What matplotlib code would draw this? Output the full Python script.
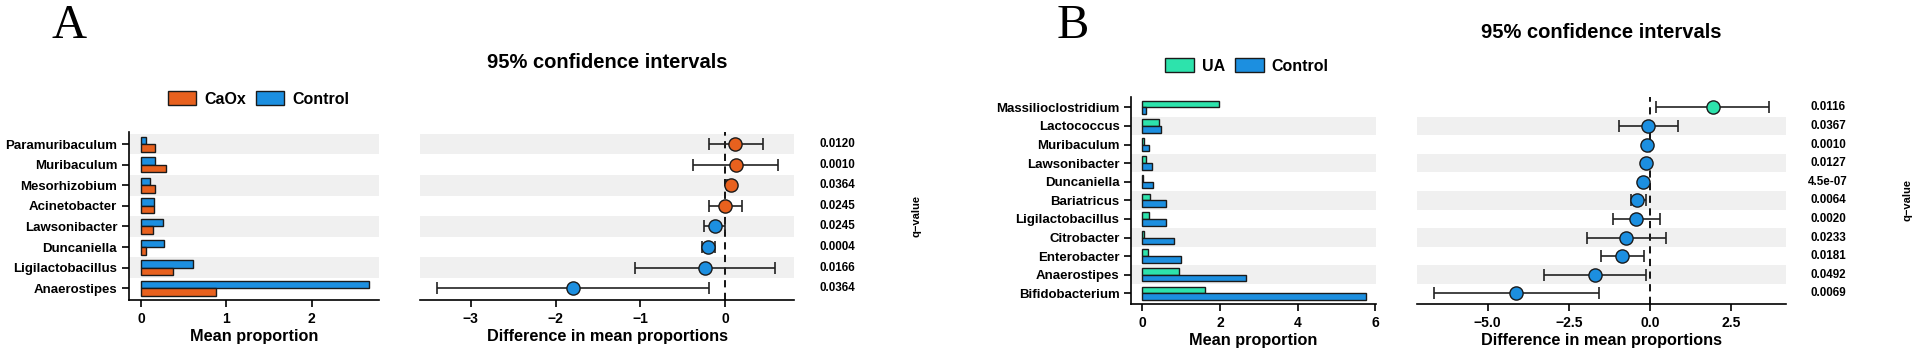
import matplotlib
matplotlib.use("Agg")
import matplotlib.pyplot as plt
from matplotlib.patches import Patch
from matplotlib.transforms import blended_transform_factory
import numpy as np

plt.rcParams['font.family'] = ['Liberation Sans', 'DejaVu Sans']
plt.rcParams['font.weight'] = 'bold'
plt.rcParams['axes.unicode_minus'] = True

# ---------------- Panel A: CaOx vs Control ----------------
genera_a = ["Paramuribaculum", "Muribaculum", "Mesorhizobium", "Acinetobacter",
            "Lawsonibacter", "Duncaniella", "Ligilactobacillus", "Anaerostipes"]
caox_mean = [0.17, 0.29, 0.16, 0.15, 0.14, 0.06, 0.37, 0.88]
ctrl_mean_a = [0.055, 0.17, 0.105, 0.15, 0.26, 0.27, 0.61, 2.67]
diff_a = [0.113, 0.122, 0.063, -0.004, -0.118, -0.20, -0.235, -1.79]
ci_lo_a = [-0.198, -0.378, 0.02, -0.198, -0.248, -0.277, -1.067, -3.39]
ci_hi_a = [0.437, 0.614, 0.105, 0.193, 0.0, -0.122, 0.584, -0.189]
qval_a = ["0.0120", "0.0010", "0.0364", "0.0245", "0.0245", "0.0004", "0.0166", "0.0364"]

# ---------------- Panel B: UA vs Control ----------------
genera_b = ["Massilioclostridium", "Lactococcus", "Muribaculum", "Lawsonibacter",
            "Duncaniella", "Bariatricus", "Ligilactobacillus", "Citrobacter",
            "Enterobacter", "Anaerostipes", "Bifidobacterium"]
ua_mean = [1.99, 0.44, 0.05, 0.11, 0.026, 0.21, 0.17, 0.05, 0.14, 0.95, 1.62]
ctrl_mean_b = [0.086, 0.49, 0.18, 0.26, 0.27, 0.62, 0.61, 0.81, 1.0, 2.67, 5.76]
diff_b = [1.92, -0.05, -0.11, -0.13, -0.23, -0.39, -0.42, -0.73, -0.85, -1.68, -4.12]
ci_lo_b = [0.174, -0.95, -0.17, -0.20, -0.29, -0.60, -1.15, -1.94, -1.51, -3.27, -6.64]
ci_hi_b = [3.66, 0.86, -0.05, -0.06, -0.17, -0.14, 0.30, 0.48, -0.19, -0.12, -1.58]
qval_b = ["0.0116", "0.0367", "0.0010", "0.0127", "4.5e-07", "0.0064", "0.0020",
          "0.0233", "0.0181", "0.0492", "0.0069"]

ORANGE = "#E8611E"
BLUE = "#1C8FE0"
GREEN = "#2DE3AC"
BAND = "#F0F0F0"

W, H = 1919, 351
fig = plt.figure(figsize=(W / 100, H / 100), dpi=100)


def add_ax(left, right, top, bottom):
    return fig.add_axes([left / W, 1 - bottom / H, (right - left) / W, (bottom - top) / H])


def bands(ax, n):
    for k in range(n):
        if k % 2 == 1:
            ax.axhspan(k - 0.5, k + 0.5, color=BAND, zorder=0, lw=0)


def style_bar_axis(ax, names, ylim, xlim, xticks):
    n = len(names)
    ax.set_ylim(*ylim)
    ax.set_xlim(*xlim)
    ax.set_yticks(np.arange(n))
    ax.set_yticklabels(names[::-1], fontsize=9.5, fontweight='bold')
    ax.set_xticks(xticks)
    ax.tick_params(axis='both', length=5, width=1.2, colors='black', labelsize=10)
    ax.tick_params(axis='y', labelsize=9.5)
    for lab in ax.get_xticklabels():
        lab.set_fontweight('bold')
    for s in ['top', 'right']:
        ax.spines[s].set_visible(False)
    ax.spines['left'].set_linewidth(1.2)
    ax.spines['bottom'].set_linewidth(1.2)
    ax.set_xlabel("Mean proportion", fontsize=11.7, fontweight='bold', labelpad=2)


def style_ci_axis(ax, ylim, xlim, xticks, xticklabels):
    ax.set_ylim(*ylim)
    ax.set_xlim(*xlim)
    ax.set_yticks([])
    ax.set_xticks(xticks)
    ax.set_xticklabels(xticklabels)
    ax.tick_params(axis='x', length=5, width=1.2, labelsize=10)
    for lab in ax.get_xticklabels():
        lab.set_fontweight('bold')
    for s in ['top', 'right', 'left']:
        ax.spines[s].set_visible(False)
    ax.spines['bottom'].set_linewidth(1.2)
    ax.axvline(0, color='black', ls=(0, (4, 3)), lw=1.3, zorder=1)
    ax.set_xlabel("Difference in mean proportions", fontsize=11.7, fontweight='bold', labelpad=2)


def draw_ci(ax, diff, lo, hi, pos_color, neg_color):
    n = len(diff)
    y = np.arange(n)[::-1]
    for yi, d, l, h in zip(y, diff, lo, hi):
        ax.errorbar(d, yi, xerr=[[d - l], [h - d]], fmt='none', ecolor='#222222',
                    elinewidth=1.2, capsize=4, capthick=1.2, zorder=2)
        c = pos_color if d >= -0.01 else neg_color
        ax.plot(d, yi, 'o', ms=9.5, mfc=c, mec='#1a1a1a', mew=1.0, zorder=3)


def draw_qvals(ax, qvals, xq, xlab):
    n = len(qvals)
    tr = blended_transform_factory(fig.transFigure, ax.transData)
    for i, q in enumerate(qvals):
        ax.text(xq / W, n - 1 - i, q, transform=tr, ha='center', va='center',
                fontsize=8.4, fontweight='bold')
    ax.text(xlab / W, (n - 1) / 2, "q\u2212value", transform=tr, rotation=90,
            ha='center', va='center', fontsize=8, fontweight='bold')


BAR_H = 0.365

# ---- Panel A ----
na = len(genera_a)
ylim_a = (-0.57, 7.6)
axA1 = add_ax(129, 379, 131.7, 300)
bands(axA1, na)
ya = np.arange(na)[::-1]
axA1.barh(ya + BAR_H / 2, ctrl_mean_a, height=BAR_H, color=BLUE, edgecolor='#1a1a1a', lw=1.0, zorder=2)
axA1.barh(ya - BAR_H / 2, caox_mean, height=BAR_H, color=ORANGE, edgecolor='#1a1a1a', lw=1.0, zorder=2)
style_bar_axis(axA1, genera_a, ylim_a, (-0.14, 2.79), [0, 1, 2])

axA2 = add_ax(420.4, 794.3, 131.7, 300)
bands(axA2, na)
style_ci_axis(axA2, ylim_a, (-3.59, 0.81), [-3, -2, -1, 0], ["\u22123", "\u22122", "\u22121", "0"])
draw_ci(axA2, diff_a, ci_lo_a, ci_hi_a, ORANGE, BLUE)
draw_qvals(axA2, qval_a, 837.5, 916)

# ---- Panel B ----
nb = len(genera_b)
ylim_b = (-0.575, 10.57)
axB1 = add_ax(1131.3, 1376, 96.7, 304)
bands(axB1, nb)
yb = np.arange(nb)[::-1]
axB1.barh(yb + BAR_H / 2, ua_mean, height=BAR_H, color=GREEN, edgecolor='#1a1a1a', lw=1.0, zorder=2)
axB1.barh(yb - BAR_H / 2, ctrl_mean_b, height=BAR_H, color=BLUE, edgecolor='#1a1a1a', lw=1.0, zorder=2)
style_bar_axis(axB1, genera_b, ylim_b, (-0.28, 6.02), [0, 2, 4, 6])

axB2 = add_ax(1417.3, 1785.7, 96.7, 304)
bands(axB2, nb)
style_ci_axis(axB2, ylim_b, (-7.16, 4.17), [-5, -2.5, 0, 2.5],
              ["\u22125.0", "\u22122.5", "0.0", "2.5"])
draw_ci(axB2, diff_b, ci_lo_b, ci_hi_b, GREEN, BLUE)
draw_qvals(axB2, qval_b, 1828, 1907)

# ---- Titles, legends and panel letters ----
fig.text(607 / W, 1 - 63 / H, "95% confidence intervals", ha='center', va='center',
         fontsize=14.5, fontweight='bold')
fig.text(1601 / W, 1 - 32 / H, "95% confidence intervals", ha='center', va='center',
         fontsize=14.5, fontweight='bold')

leg_kw = dict(ncol=2, frameon=False, handlelength=1.8, handleheight=1.0,
              handletextpad=0.5, columnspacing=0.6, loc='center',
              prop={'weight': 'bold', 'size': 11.5})
fig.legend(handles=[Patch(facecolor=ORANGE, edgecolor='#1a1a1a', lw=1.0),
                    Patch(facecolor=BLUE, edgecolor='#1a1a1a', lw=1.0)],
           labels=["CaOx", "Control"], bbox_to_anchor=(258.5 / W, 1 - 99 / H), **leg_kw)
fig.legend(handles=[Patch(facecolor=GREEN, edgecolor='#1a1a1a', lw=1.0),
                    Patch(facecolor=BLUE, edgecolor='#1a1a1a', lw=1.0)],
           labels=["UA", "Control"], bbox_to_anchor=(1247 / W, 1 - 65.7 / H), **leg_kw)

fig.text(69 / W, 1 - 26 / H, "A", ha='center', va='center', fontsize=35,
         family='Liberation Serif', fontweight='normal')
fig.text(1073 / W, 1 - 26 / H, "B", ha='center', va='center', fontsize=35,
         family='Liberation Serif', fontweight='normal')

fig.savefig("out.png", dpi=100, facecolor='white')
